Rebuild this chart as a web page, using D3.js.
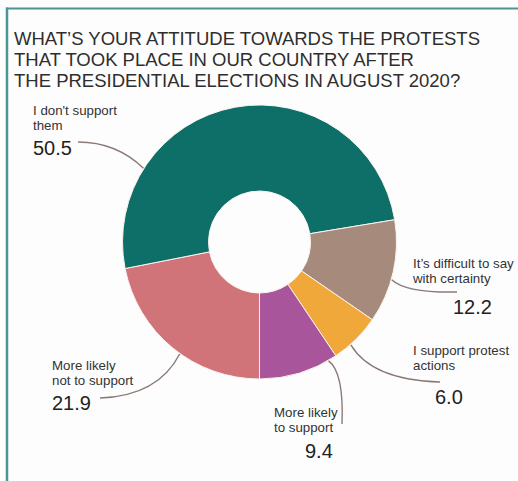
<!DOCTYPE html>
<html>
<head>
<meta charset="utf-8">
<script src="https://cdn.jsdelivr.net/npm/d3@7/dist/d3.min.js"></script>
<style>
  html, body { margin: 0; padding: 0; background: #fdfdfd; }
  svg { display: block; }
  text { font-family: "Liberation Sans", Arial, sans-serif; }
</style>
</head>
<body>
<svg id="chart" width="518" height="481"></svg>
<script>
// Survey answers, in drawing order (clockwise from the bottom of the ring)
const categories = [
  ["More likely", "not to support"],
  ["I don't support", "them"],
  ["It\u2019s difficult to say", "with certainty"],
  ["I support protest", "actions"],
  ["More likely", "to support"]
];
const values = [21.9, 50.5, 12.2, 6.0, 9.4];
const valueLabels = ["21.9", "50.5", "12.2", "6.0", "9.4"];
const colors = ["#d17479", "#0d6f67", "#a68a7b", "#f0a83b", "#a8559b"];

const titleLines = [
  "WHAT\u2019S YOUR ATTITUDE TOWARDS THE PROTESTS",
  "THAT TOOK PLACE IN OUR COUNTRY AFTER",
  "THE PRESIDENTIAL ELECTIONS IN AUGUST 2020?"
];

// Label placement: text block origin, number position, leader anchor
// (fraction along the slice's outer edge) and the curve's control/end points.
const labelLayout = [
  { x: 52,  y: 370, nx: 52,  ny: 410, t: 0.45, c: [158, 396], e: [100, 398] },
  { x: 33,  y: 115, nx: 33,  ny: 155, t: 0.24, c: [116, 142], e: [78, 142] },
  { x: 413, y: 268, nx: 453, ny: 314, t: 0.575, c: [406, 293], e: [457, 292] },
  { x: 413, y: 355, nx: 435, ny: 404, t: 0.64, c: [372, 380], e: [440, 382] },
  { x: 274, y: 417, nx: 305, ny: 458, t: 0.11, c: [344, 372], e: [342, 424] }
];

const svg = d3.select("#chart");
const W = 518, H = 481;

// Frame: teal rule along the top and left
svg.append("line").attr("x1", 6).attr("x2", W).attr("y1", 8.5).attr("y2", 8.5)
  .attr("stroke", "#4b9692").attr("stroke-width", 2);
svg.append("line").attr("x1", 7).attr("x2", 7).attr("y1", 7.5).attr("y2", H)
  .attr("stroke", "#4b9692").attr("stroke-width", 2.5);

// Title
svg.append("g").selectAll("text").data(titleLines).join("text")
  .attr("x", 14).attr("y", (d, i) => 45 + i * 21)
  .attr("font-size", 18.5).attr("fill", "#2e2e2e")
  .text(d => d);

// Donut
const cx = 259.5, cy = 242, rOuter = 137, rInner = 51;
const pie = d3.pie().sort(null).value(d => d)
  .startAngle(Math.PI).endAngle(3 * Math.PI);
const arcs = pie(values);
const arc = d3.arc().innerRadius(rInner).outerRadius(rOuter);

const g = svg.append("g").attr("transform", `translate(${cx},${cy})`);
g.selectAll("path").data(arcs).join("path")
  .attr("d", arc)
  .attr("fill", (d, i) => colors[i])
  .attr("stroke", "#fbf3ee").attr("stroke-width", 1);

// Leader lines
svg.append("g").selectAll("path").data(arcs).join("path")
  .attr("fill", "none").attr("stroke", "#8b7a77").attr("stroke-width", 1.4)
  .attr("d", (d, i) => {
    const L = labelLayout[i];
    const a = d.startAngle + (d.endAngle - d.startAngle) * L.t;
    const sx = cx + (rOuter + 0.5) * Math.sin(a);
    const sy = cy - (rOuter + 0.5) * Math.cos(a);
    const p = d3.path();
    p.moveTo(L.e[0], L.e[1]);
    p.quadraticCurveTo(L.c[0], L.c[1], sx, sy);
    return p.toString();
  });

// Category labels and values
const lab = svg.append("g");
categories.forEach((lines, i) => {
  const L = labelLayout[i];
  lab.append("g").selectAll("text").data(lines).join("text")
    .attr("x", L.x).attr("y", (d, j) => L.y + j * 14.5)
    .attr("font-size", 13.3).attr("fill", "#333")
    .text(d => d);
  lab.append("text")
    .attr("x", L.nx).attr("y", L.ny)
    .attr("font-size", 20).attr("fill", "#222")
    .text(valueLabels[i]);
});
</script>
</body>
</html>
